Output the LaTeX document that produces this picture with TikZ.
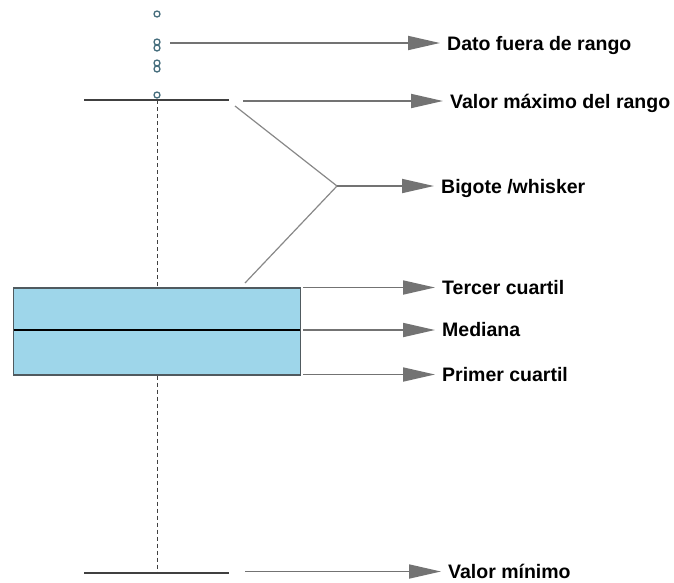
\documentclass[tikz,border=0pt]{standalone}
\usepackage{fontspec}
\setmainfont{Liberation Sans}
\usetikzlibrary{arrows.meta}
\definecolor{boxfill}{RGB}{158,214,234}
\definecolor{boxedge}{RGB}{80,90,95}
\definecolor{arrgray}{RGB}{115,115,115}
\definecolor{outl}{RGB}{70,110,125}
\tikzset{
  lbl/.style={anchor=west,inner sep=0pt,text height=14pt,text depth=0pt,
    font=\fontsize{19.5}{22}\selectfont\bfseries},
  pointer/.style={draw=arrgray,line width=1.8pt,
    -{Triangle[length=32pt,width=14pt,fill=arrgray]},shorten >=7pt},
  whisk/.style={draw=black!75,line width=1.3pt},
  dashline/.style={draw=black!75,line width=0.9pt,dash pattern=on 4pt off 3pt},
  outlier/.style={draw=outl,line width=1.3pt,fill=white},
  bigline/.style={draw=arrgray!85,line width=1.2pt}
}
\begin{document}
\begin{tikzpicture}[x=1pt,y=-1pt]
\useasboundingbox (0,0) rectangle (674,582);
% coordinates
\coordinate (wt) at (157,100);
\coordinate (wb) at (157,573);
\coordinate (wtl) at (84,100);
\coordinate (wtr) at (229,100);
\coordinate (wbl) at (84,573);
\coordinate (wbr) at (229,573);
% box
\node[draw=boxedge,fill=boxfill,line width=1.2pt,minimum width=287pt,minimum height=87pt,inner sep=0pt] (box) at (157,331.5) {};
\coordinate (ml) at (13.6,330);
\coordinate (mr) at (300.4,330);
\draw[line width=2.8pt,black] (ml) -- (mr);
% dashed
\draw[dashline] (wt) -- (box.north -| wt);
\draw[dashline] (box.south -| wb) -- (wb);
% whiskers
\draw[whisk] (wtl) -- (wtr);
\draw[whisk] (wbl) -- (wbr);
% outliers
\foreach \yy/\nm in {14/o1,42/o2,48/o3,63/o4,69/o5,95/o6}
  \node[outlier,circle,inner sep=0pt,minimum size=6pt] (\nm) at (157,\yy) {};
% labels
\node[lbl] (l1) at (447,43) {Dato fuera de rango};
\node[lbl] (l2) at (450,101) {Valor máximo del rango};
\node[lbl] (l3) at (441,186) {Bigote /whisker};
\node[lbl] (l4) at (442,287) {Tercer cuartil};
\node[lbl] (l5) at (442,329) {Mediana};
\node[lbl] (l6) at (442,374) {Primer cuartil};
\node[lbl] (l7) at (448,571.5) {Valor mínimo};
% bigote pointer lines
\coordinate (ap) at (337,186);
\coordinate (bu) at (235,106);
\coordinate (bl) at (245,283);
\draw[bigline] (bu) -- (ap) -- (bl);
% arrows
\coordinate (s1) at (170,43);
\coordinate (s2) at (243,101);
\coordinate (s7) at (245,571.5);
\coordinate (s4) at (300.4,287.5);
\coordinate (s6) at (300.4,374.5);
\draw[pointer] (s1) -- (l1.west);
\draw[pointer] (s2) -- (l2.west);
\draw[pointer] (ap) -- (l3.west);
\draw[pointer,shorten <=3pt] (s4) -- (s4 -| l4.west);
\draw[pointer,shorten <=3pt] (mr) -- (mr -| l5.west);
\draw[pointer,shorten <=3pt] (s6) -- (s6 -| l6.west);
\draw[pointer] (s7) -- (l7.west);
\end{tikzpicture}
\end{document}
